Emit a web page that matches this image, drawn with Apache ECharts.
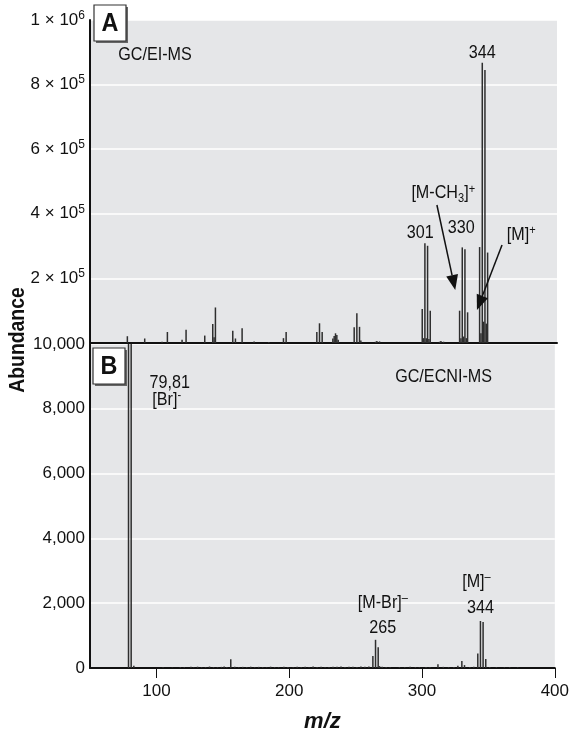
<!DOCTYPE html>
<html><head><meta charset="utf-8">
<script src="https://cdn.jsdelivr.net/npm/echarts@6/dist/echarts.min.js"></script>
<style>html,body{margin:0;padding:0;background:#fff}#c{width:572px;height:744px}</style>
</head><body><div id="c"></div>
<script>
// ---- Panel A: GC/EI-MS (m/z, abundance) ----
const eiMz = [78,91,104,108,119,122,136,142,143,144,157,159,164,173,184,195,197,220,222,224,232,233,234,235,236,248,250,252,253,264,265,267,299,300,301,302,303,304,305,312,313,315,327,328,329,330,331,332,333,342,343,344,345,346,347,348];
const eiAbund = [21000,14000,4000,34000,10000,41000,23000,59000,18000,110000,38000,14000,46000,5000,3000,15000,34000,34000,61000,34000,14000,22000,30000,25000,10000,49000,92000,50000,8000,4000,6000,5000,105000,15000,309000,15000,301000,12000,100000,4000,6000,4000,100000,15000,296000,20000,290000,15000,95000,297000,30000,868000,66000,845000,60000,280000];
// ---- Panel B: GC/ECNI-MS ----
const ecniMz = [79,81,83,105,112,118,121,126,128,131,134,137,140,143,146,149,151,153,156,159,162,165,168,171,174,177,180,183,186,189,192,196,199,203,206,209,212,215,218,221,224,227,230,233,236,239,242,245,248,251,254,257,260,263,265,267,268,270,273,276,283,287,291,295,298,303,306,312,316,320,324,327,330,332,336,339,342,344,346,348,351,356,362,366,372];
const ecniAbund = [10000,10000,70,20,15,30,25,35,20,40,25,30,45,30,25,35,50,30,270,40,25,35,30,40,25,35,30,20,40,30,25,35,30,25,40,30,35,25,45,30,35,25,30,40,35,50,30,35,40,30,45,35,50,370,870,640,60,40,30,25,30,25,35,30,25,30,20,115,35,25,30,70,215,90,30,40,450,1450,1420,280,30,25,20,25,20];
// ---- Tick labels ----
const topTickValues = [0,200000,400000,600000,800000,1000000];
const topTickMant = ['', '2', '4', '6', '8', '1'];
const topTickExp = ['', '5', '5', '5', '5', '6'];
const bottomTickValues = [0,2000,4000,6000,8000,10000];
const bottomTickLabels = ['0','2,000','4,000','6,000','8,000','10,000'];
const xTicks = [100,200,300,400];

const FONT = '"Liberation Sans",Arial,sans-serif';
const FS = 17;
const chart = echarts.init(document.getElementById('c'), null, {renderer:'canvas'});

function zip(a,b){return a.map((v,i)=>[v,b[i]]);}

const baseX = {type:'value', min:50, max:400, splitLine:{show:false}};
const barStyle = {color:'#2e2e2e'};
const option = {
  animation:false,
  backgroundColor:'#fff',
  textStyle:{fontFamily:FONT},
  grid:[
    {left:90,right:15,top:20,height:323,show:true,backgroundColor:'#e5e6e8',borderWidth:0},
    {left:90,right:15,top:344,height:324,show:true,backgroundColor:'#e5e6e8',borderWidth:0}
  ],
  xAxis:[
    Object.assign({},baseX,{gridIndex:0,axisLine:{show:true,onZero:false,lineStyle:{color:'#111',width:2}},axisTick:{show:false},axisLabel:{show:false}}),
    Object.assign({},baseX,{gridIndex:1,axisLine:{show:true,onZero:false,lineStyle:{color:'#111',width:2}},
      axisTick:{show:true,customValues:xTicks,length:10,lineStyle:{color:'#111',width:1}},
      axisLabel:{show:true,customValues:xTicks,fontSize:FS,color:'#111',margin:15,fontFamily:FONT},
      name:'m/z',nameLocation:'middle',nameGap:43,
      nameTextStyle:{fontSize:22,fontWeight:'bold',fontStyle:'italic',color:'#111',fontFamily:FONT}})
  ],
  yAxis:[
    {type:'value',gridIndex:0,min:0,max:1000000,interval:200000,
     axisLine:{show:true,lineStyle:{color:'#111',width:2}},axisTick:{show:false},
     splitLine:{show:true,lineStyle:{color:'#fff',width:1.5}},
     axisLabel:{margin:5,color:'#111',fontSize:FS,fontFamily:FONT,
       formatter:function(v){const i=topTickValues.indexOf(v); if(i<=0) return ''; return '{n|'+topTickMant[i]+' × 10}{s|'+topTickExp[i]+'}';},
       rich:{n:{fontSize:FS,color:'#111',fontFamily:FONT},s:{fontSize:12,color:'#111',fontFamily:FONT,verticalAlign:'bottom',padding:[0,0,9,0]}}}},
    {type:'value',gridIndex:1,min:0,max:10000,interval:2000,
     axisLine:{show:true,lineStyle:{color:'#111',width:2}},axisTick:{show:false},
     splitLine:{show:true,lineStyle:{color:'#fff',width:1.5}},
     axisLabel:{margin:5,color:'#111',fontSize:FS,fontFamily:FONT,
       formatter:function(v){const i=bottomTickValues.indexOf(v); return i<0?'':bottomTickLabels[i];}}}
  ],
  series:[
    {type:'bar',xAxisIndex:0,yAxisIndex:0,data:zip(eiMz,eiAbund),barWidth:1.5,itemStyle:barStyle,silent:true},
    {type:'bar',xAxisIndex:1,yAxisIndex:1,data:zip(ecniMz,ecniAbund),barWidth:1.5,itemStyle:barStyle,silent:true}
  ]
};
chart.setOption(option);

// ---- annotations in data coordinates ----
const topText = [
  {mz:98.75, v:891600, t:'GC/EI-MS'},
  {mz:344, v:897800, t:'344'},
  {mz:297.5, v:340600, t:'301'},
  {mz:328.25, v:356000, t:'330'},
  {mz:314.75, v:464400, t:'{a|[M-CH}{sub|3}{a|]}{sup|+}'},
  {mz:373.25, v:334400, t:'{a|[M]}{sup|+}'}
];
const topArrows = [
  {from:[310,427200], to:[323.75,164100]},
  {from:[358.8,303400], to:[340,102200]}
];
const botText = [
  {mz:316.25, v:9000, t:'GC/ECNI-MS'},
  {mz:110, v:8800, t:'79,81'},
  {mz:107.75, v:8270, t:'{a|[Br]}{sup|-}'},
  {mz:270.5, v:2006, t:'{a|[M-Br]}{sup|–}'},
  {mz:270.5, v:1235, t:'265'},
  {mz:341, v:2654, t:'{a|[M]}{sup|–}'},
  {mz:344, v:1852, t:'344'}
];
const rich = {
  a:{fontSize:19,color:'#111',fontFamily:FONT},
  sub:{fontSize:13,color:'#111',fontFamily:FONT,verticalAlign:'top',padding:[10,0,0,0]},
  sup:{fontSize:13,color:'#111',fontFamily:FONT,verticalAlign:'bottom',padding:[0,0,9,0]}
};
const g = [];
function addText(list, gi){
  list.forEach(o=>{
    const p = chart.convertToPixel({gridIndex:gi},[o.mz,o.v]);
    g.push({type:'text',x:p[0],y:p[1],scaleX:0.85,style:{text:o.t,rich:rich,fontSize:19,fill:'#111',fontFamily:FONT,align:'center',verticalAlign:'middle'},z:50});
  });
}
addText(topText,0); addText(botText,1);
topArrows.forEach(a=>{
  const p1 = chart.convertToPixel({gridIndex:0},a.from);
  const p2 = chart.convertToPixel({gridIndex:0},a.to);
  const dx=p2[0]-p1[0], dy=p2[1]-p1[1], L=Math.sqrt(dx*dx+dy*dy), ux=dx/L, uy=dy/L;
  const hl=15, hw=6;
  const bx=p2[0]-ux*hl, by=p2[1]-uy*hl;
  g.push({type:'line',shape:{x1:p1[0],y1:p1[1],x2:bx,y2:by},style:{stroke:'#111',lineWidth:1.5},z:50});
  g.push({type:'polygon',shape:{points:[[p2[0],p2[1]],[bx-uy*hw,by+ux*hw],[bx+uy*hw,by-ux*hw]]},style:{fill:'#111'},z:50});
});
// panel labels
[['A',94,5],['B',93,348]].forEach(b=>{
  g.push({type:'rect',shape:{x:b[1]+2,y:b[2]+2,width:32,height:36},style:{fill:'#666'},z:60});
  g.push({type:'rect',shape:{x:b[1],y:b[2],width:32,height:36},style:{fill:'#fff',stroke:'#333',lineWidth:1.2},z:61});
  g.push({type:'text',x:b[1]+16,y:b[2]+19,scaleX:0.9,style:{text:b[0],fontSize:26,fontWeight:'bold',fill:'#111',fontFamily:FONT,align:'center',verticalAlign:'middle'},z:62});
});
g.push({type:'text',x:18,y:340,rotation:Math.PI/2,scaleX:0.88,style:{text:'Abundance',fontSize:22,fontWeight:'bold',fill:'#111',fontFamily:FONT,align:'center',verticalAlign:'middle'},z:50});
chart.setOption({graphic:g});
</script></body></html>
